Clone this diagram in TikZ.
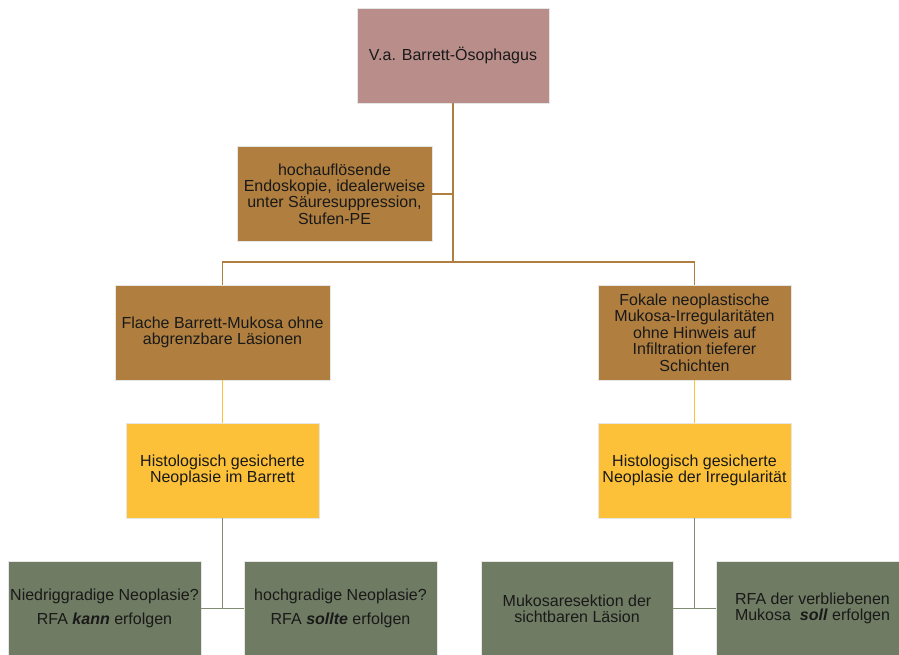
\documentclass[tikz,border=0pt]{standalone}
\usepackage{fontspec}
\setmainfont{Liberation Sans}
\definecolor{rosebox}{HTML}{B98E8A}
\definecolor{brownbox}{HTML}{B07F3F}
\definecolor{yellowbox}{HTML}{FCC139}
\definecolor{greenbox}{HTML}{6F7B62}
\definecolor{greenline}{HTML}{7F8B72}
\definecolor{edgegray}{HTML}{E6E6E6}
\begin{document}
\begin{tikzpicture}[x=1pt,y=-1pt,
  box/.style={draw=edgegray, line width=0.8pt, inner sep=2pt, align=center,
    minimum height=95pt, text=black!90,
    font=\fontsize{16}{16.4}\selectfont},
  rosestyle/.style={box, fill=rosebox},
  brownstyle/.style={box, fill=brownbox},
  yellowstyle/.style={box, fill=yellowbox},
  greenstyle/.style={box, fill=greenbox},
  brownlink/.style={draw=brownbox, line width=1.6pt},
  yellowlink/.style={draw=yellowbox, line width=1.6pt},
  greenlink/.style={draw=greenline, line width=1.6pt}]
\useasboundingbox (0,0) rectangle (899,655);

% boxes
\node[rosestyle, minimum width=192pt] (top) at (453,55.5) {V.a. Barrett-Ösophagus};
\node[brownstyle, minimum width=195pt] (side) at (334.5,194)
  {hochauflösende\\Endoskopie, idealerweise\\unter Säuresuppression,\\Stufen-PE};
\node[brownstyle, minimum width=215pt] (lm) at (222.5,332.5)
  {Flache Barrett-Mukosa ohne\\abgrenzbare Läsionen};
\node[brownstyle, minimum width=193pt] (rm) at (694.5,332.5)
  {Fokale neoplastische\\Mukosa-Irregularitäten\\ohne Hinweis auf\\Infiltration tieferer\\Schichten};
\node[yellowstyle, minimum width=193pt] (yl) at (222.5,470.5)
  {Histologisch gesicherte\\Neoplasie im Barrett};
\node[yellowstyle, minimum width=193pt] (yr) at (694.5,470.5)
  {Histologisch gesicherte\\Neoplasie der Irregularität};
\node[greenstyle, minimum width=193pt] (g1) at (104.5,608.5)
  {Niedriggradige Neoplasie?\\[7.5pt]RFA \textbf{\textit{kann}} erfolgen};
\node[greenstyle, minimum width=193pt] (g2) at (340.5,608.5)
  {hochgradige Neoplasie?\\[7.5pt]RFA \textbf{\textit{sollte}} erfolgen};
\node[greenstyle, minimum width=192pt] (g3) at (577,608.5)
  {Mukosaresektion der\\sichtbaren Läsion};
\node[greenstyle, minimum width=193pt] (g4) at (812.5,608.5)
  {RFA der verbliebenen\\Mukosa\ \ \textbf{\textit{soll}} erfolgen};

% connectors
\coordinate (hub) at (453,262);
\draw[brownlink] (top.south) -- (hub);
\draw[brownlink] (side.east) -- (side.east -| hub);
\draw[brownlink] (lm.north) |- (hub) -| (rm.north);
\draw[yellowlink] (lm.south) -- (yl.north);
\draw[yellowlink] (rm.south) -- (yr.north);
\draw[greenlink] (yl.south) -- (yl.south |- g1.east);
\draw[greenlink] (g1.east) -- (g2.west);
\draw[greenlink] (yr.south) -- (yr.south |- g3.east);
\draw[greenlink] (g3.east) -- (g4.west);
\end{tikzpicture}
\end{document}
